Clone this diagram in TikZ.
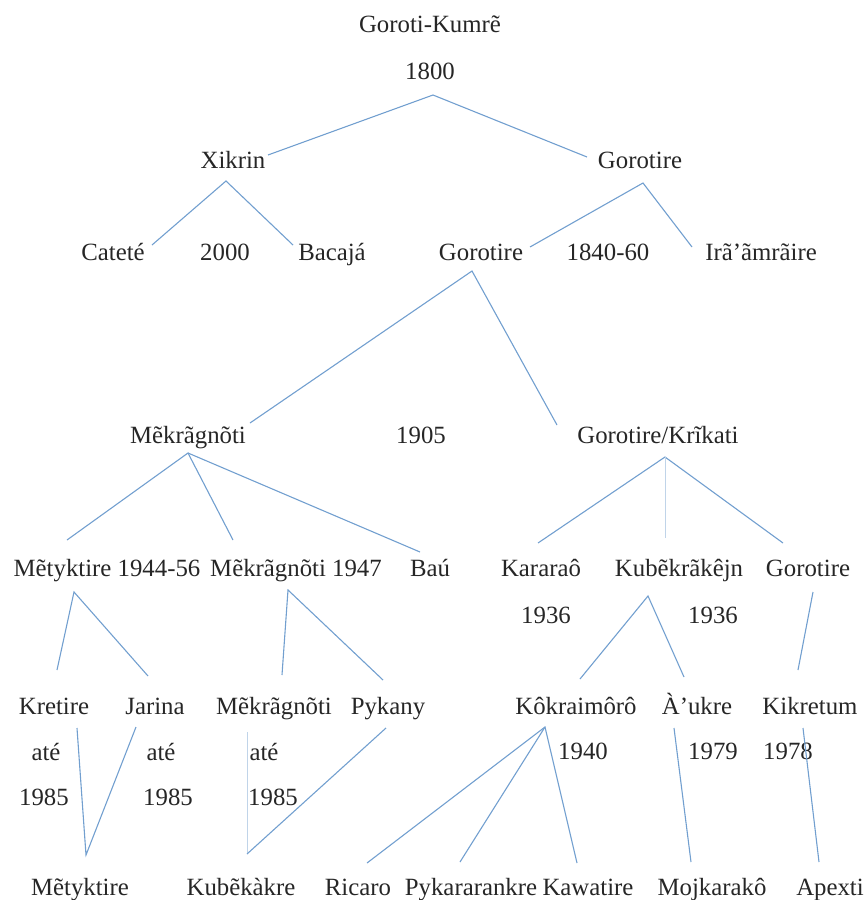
\documentclass[tikz,border=0pt]{standalone}
\usepackage{fontspec}
\setmainfont{Liberation Serif}
\usepackage[HTML]{xcolor}
\usepackage{tikz}
\usetikzlibrary{calc}
\definecolor{linkblue}{HTML}{729FCF}

\begin{document}
\begin{tikzpicture}[x=0.5pt, y=-0.5pt,
  lbl/.style={inner sep=0pt, text height=8pt, text depth=0pt, text=black!85, font=\fontsize{12.4}{14}\selectfont},
  link/.style={draw=linkblue, line width=0.55pt},
  vlink/.style={draw=linkblue!45, line width=0.4pt}]
\useasboundingbox (0,0) rectangle (867,900);
% root
\node[lbl] (gk) at (430,24) {Goroti-Kumrẽ};
\node[lbl] (y1800) at (430,71) {1800};
% first split
\node[lbl] (xikrin) at (233,160) {Xikrin};
\node[lbl] (gorA) at (640,160) {Gorotire};
\node[lbl] (catete) at (113,252) {Cateté};
\node[lbl] (y2000) at (225,252) {2000};
\node[lbl] (bacaja) at (332,252) {Bacajá};
\node[lbl] (gorB) at (481,252) {Gorotire};
\node[lbl] (y1840) at (608,252) {1840-60};
\node[lbl] (ira) at (761,252) {Irã’ãmrãire};
% 1905
\node[lbl] (mekA) at (188,435) {Mẽkrãgnõti};
\node[lbl] (y1905) at (421,435) {1905};
\node[lbl] (gorK) at (658,435) {Gorotire/Krĩkati};
% third row
\node[lbl] (metA) at (107,568) {Mẽtyktire 1944-56};
\node[lbl] (mekB) at (296,568) {Mẽkrãgnõti 1947};
\node[lbl] (bau) at (430,568) {Baú};
\node[lbl] (kar) at (541,568) {Kararaô};
\node[lbl] (kub) at (679,568) {Kubẽkrãkêjn};
\node[lbl] (gorC) at (808,568) {Gorotire};
\node[lbl] (y1936a) at (546,615) {1936};
\node[lbl] (y1936b) at (713,615) {1936};
% fourth row
\node[lbl] (kre) at (54,706) {Kretire};
\node[lbl] (jar) at (155,706) {Jarina};
\node[lbl] (mekC) at (274,706) {Mẽkrãgnõti};
\node[lbl] (pyk) at (388,706) {Pykany};
\node[lbl] (kok) at (576,706) {Kôkraimôrô};
\node[lbl] (auk) at (697,706) {À’ukre};
\node[lbl] (kik) at (810,706) {Kikretum};
\node[lbl] (ate1) at (46,752) {até};
\node[lbl] (ate2) at (161,752) {até};
\node[lbl] (ate3) at (264,752) {até};
\node[lbl] (y1940) at (583,751) {1940};
\node[lbl] (y1979) at (713,751) {1979};
\node[lbl] (y1978) at (788,751) {1978};
\node[lbl] (y1985a) at (44,797) {1985};
\node[lbl] (y1985b) at (168,797) {1985};
\node[lbl] (y1985c) at (273,797) {1985};
% bottom row
\node[lbl] (metB) at (80,887) {Mẽtyktire};
\node[lbl] (kubB) at (241,887) {Kubẽkàkre};
\node[lbl] (ric) at (358,887) {Ricaro};
\node[lbl] (pykr) at (471,887) {Pykararankre};
\node[lbl] (kaw) at (588,887) {Kawatire};
\node[lbl] (moj) at (712,887) {Mojkarakô};
\node[lbl] (apx) at (830,887) {Apexti};
% edges
\draw[link] ($(xikrin)+(35,-5)$) -- ($(y1800)+(3,24)$) -- ($(gorA)+(-53,-3)$);
\draw[link] ($(catete)+(39,-7)$) -- ($(xikrin)+(-7,21)$) -- ($(bacaja)+(-39,-7)$);
\draw[link] ($(gorB)+(49,-5)$) -- ($(gorA)+(3,23)$) -- ($(ira)+(-69,-5)$);
\draw[link] ($(mekA)+(62,-12)$) -- ($(gorB)+(-9,19)$) -- ($(gorK)+(-101,-10)$);
\draw[link] ($(metA)+(-40,-28)$) -- ($(mekA)+(0,18)$) -- ($(mekB)+(-63,-28)$);
\draw[link] ($(mekA)+(0,18)$) -- ($(bau)+(-10,-16)$);
\draw[link] ($(kar)+(-3,-25)$) -- ($(gorK)+(7,22)$) -- ($(gorC)+(-25,-25)$);
\draw[vlink] ($(gorK)+(7,22)$) -- ($(kub)+(-14,-30)$);
\draw[link] ($(kre)+(3,-36)$) -- ($(metA)+(-33,24)$) -- ($(jar)+(-7,-30)$);
\draw[link] ($(mekC)+(8,-31)$) -- ($(mekB)+(-8,22)$) -- ($(pyk)+(-5,-26)$);
\draw[link] ($(kok)+(4,-27)$) -- ($(kub)+(-31,28)$) -- ($(auk)+(-13,-29)$);
\draw[link] ($(gorC)+(5,24)$) -- ($(kik)+(-12,-36)$);
\draw[link] ($(kre)+(23,22)$) -- ($(metB)+(6,-32)$) -- ($(jar)+(-19,21)$);
\draw[vlink] ($(mekC)+(-27,26)$) -- ($(kubB)+(6,-33)$);
\draw[link] ($(kubB)+(6,-33)$) -- ($(pyk)+(-2,22)$);
\draw[link] ($(ric)+(9,-24)$) -- ($(kok)+(-31,21)$) -- ($(kaw)+(-11,-24)$);
\draw[link] ($(kok)+(-31,21)$) -- ($(pykr)+(-11,-25)$);
\draw[link] ($(auk)+(-23,22)$) -- ($(moj)+(-21,-25)$);
\draw[link] ($(kik)+(-7,22)$) -- ($(apx)+(-11,-25)$);
\end{tikzpicture}
\end{document}
